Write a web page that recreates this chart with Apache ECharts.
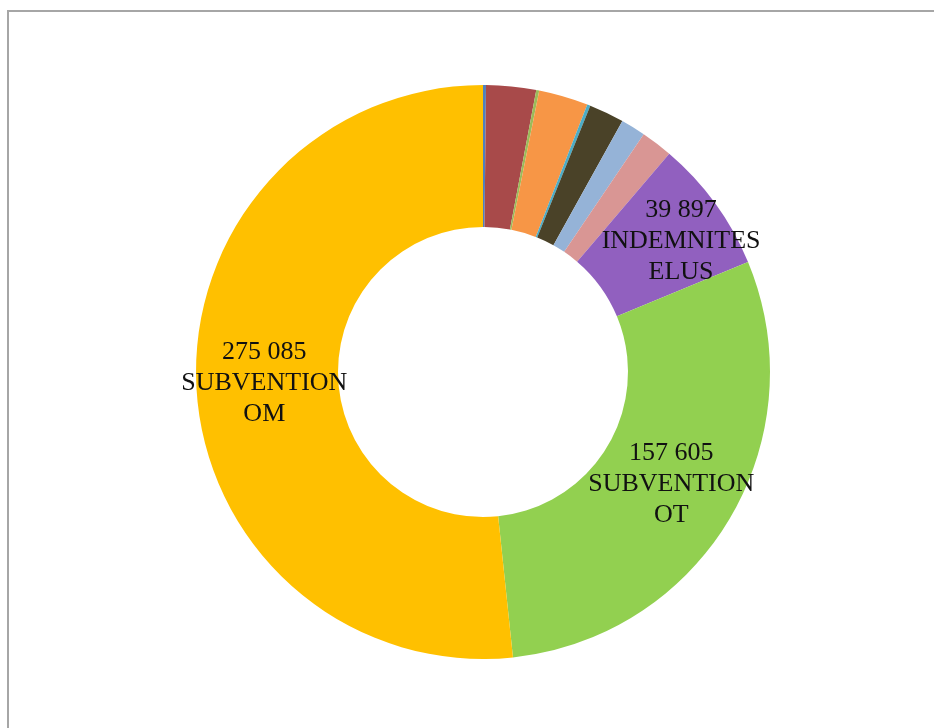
<!DOCTYPE html>
<html>
<head>
<meta charset="utf-8">
<script src="https://cdn.jsdelivr.net/npm/echarts@6/dist/echarts.min.js"></script>
<style>
html,body{margin:0;padding:0;background:#fff;}
#chart{width:934px;height:728px;}
</style>
</head>
<body>
<div id="chart"></div>
<script>
var categories = ['AUTRE 1', 'AUTRE 2', 'AUTRE 3', 'AUTRE 4', 'AUTRE 5', 'AUTRE 6', 'AUTRE 7', 'AUTRE 8', 'INDEMNITES ELUS', 'SUBVENTION OT', 'SUBVENTION OM'];
var values = [890, 14940, 890, 14790, 960, 10500, 7400, 9470, 39897, 157605, 275085];
var colors = ['#4F81BD', '#A84A4A', '#9BBB59', '#F79646', '#4BACC6', '#4A4228', '#95B3D7', '#D99694', '#9160BF', '#92D050', '#FFC000'];
var labelled = ['INDEMNITES ELUS', 'SUBVENTION OT', 'SUBVENTION OM'];

function fmt(v){
  return String(v).replace(/\B(?=(\d{3})+(?!\d))/g, ' ');
}

var data = categories.map(function(c, i){
  var item = { name: c, value: values[i], itemStyle: { color: colors[i] } };
  if (labelled.indexOf(c) >= 0) {
    item.label = { show: true };
    if (c === 'INDEMNITES ELUS') item.label.offset = [21, -2];
  } else {
    item.label = { show: false };
  }
  return item;
});

var chart = echarts.init(document.getElementById('chart'));
chart.setOption({
  animation: false,
  backgroundColor: '#ffffff',
  graphic: [{
    type: 'rect',
    shape: { x: 8, y: 11, width: 1200, height: 1200 },
    style: { fill: 'none', stroke: '#a6a6a6', lineWidth: 2 },
    silent: true
  }],
  series: [{
    type: 'pie',
    center: [483, 372],
    radius: [145, 287],
    startAngle: 90,
    clockwise: true,
    avoidLabelOverlap: false,
    itemStyle: { borderWidth: 0 },
    label: {
      position: 'inside',
      fontFamily: 'Liberation Serif',
      fontSize: 26,
      lineHeight: 31,
      color: '#111',
      align: 'center',
      formatter: function(p){
        return fmt(p.value) + '\n' + p.name.split(' ').join('\n');
      }
    },
    labelLine: { show: false },
    emphasis: { disabled: true },
    data: data
  }]
});
</script>
</body>
</html>
